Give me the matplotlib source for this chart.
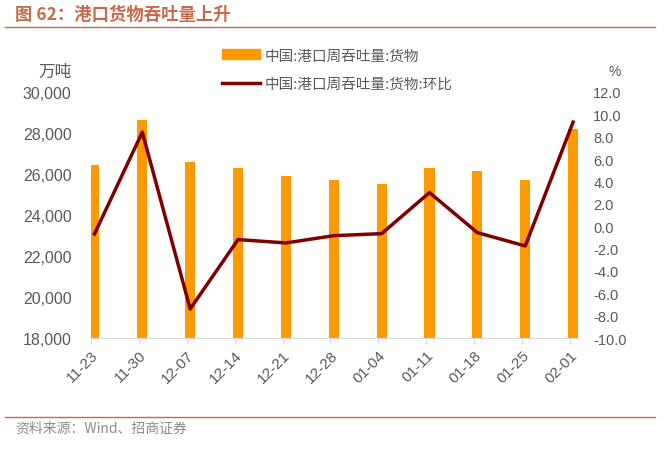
import matplotlib
matplotlib.use("Agg")
import matplotlib.pyplot as plt
from matplotlib.lines import Line2D

plt.rcParams['font.family'] = ['Liberation Sans', 'Noto Sans CJK SC', 'DejaVu Sans']

# data
dates = ["11-23", "11-30", "12-07", "12-14", "12-21", "12-28",
         "01-04", "01-11", "01-18", "01-25", "02-01"]
throughput = [26420, 28650, 26580, 26290, 25900, 25700,
              25510, 26290, 26140, 25700, 28200]
wow_pct = [-0.7, 8.4, -7.4, -1.2, -1.5, -0.85,
           -0.67, 3.0, -0.58, -1.77, 9.3]

bar_color = "#FF9900"
line_color = "#800000"
accent = "#C8694A"
grey = "#595959"
cjk = ['Noto Sans CJK SC', 'DejaVu Sans']

fig = plt.figure(figsize=(6.65, 4.6), dpi=100)
ax = fig.add_axes([0.137, 0.263, 0.732, 0.535])
ax2 = ax.twinx()

x = list(range(len(dates)))
ax.bar(x, throughput, width=0.21, color=bar_color, zorder=2)
ax2.plot(x, wow_pct, color=line_color, lw=2.5, zorder=3)

ax.set_xlim(-0.07, 10.1)
ax.set_ylim(18000, 30000)
ax.set_yticks(range(18000, 30001, 2000))
ax.set_yticklabels([f"{v:,}" for v in range(18000, 30001, 2000)])
ax2.set_ylim(-10, 12)
ax2.set_yticks(range(-10, 13, 2))
ax2.set_yticklabels([f"{v:.1f}" for v in range(-10, 13, 2)])

ax.set_xticks([i - 0.07 for i in x])
ax.set_xticklabels(dates, rotation=45, ha="right", va="top",
                   rotation_mode="anchor", color=grey, fontsize=11)

for a in (ax, ax2):
    for s in a.spines.values():
        s.set_visible(False)
ax.spines['bottom'].set_visible(True)
ax.spines['bottom'].set_color("#D9D9D9")
ax.tick_params(axis='x', length=4, color="#D9D9D9", pad=3)
ax.tick_params(axis='y', length=0, labelsize=11.5, labelcolor=grey, pad=14)
ax2.tick_params(axis='y', length=0, labelsize=10.5, labelcolor=grey, pad=11)
ax.set_zorder(ax2.get_zorder() - 1)
ax2.patch.set_visible(False)

# units
fig.text(72 / 665, 1 - 72 / 460, "万吨", ha="right", va="center",
         fontsize=12, color=grey, family=cjk)
fig.text(615 / 665, 1 - 72 / 460, "%", ha="center", va="center",
         fontsize=10, color=grey)

# legend
handles = [plt.Rectangle((0, 0), 1, 1, color=bar_color),
           Line2D([0], [0], color=line_color, lw=2.5)]
fig.legend(handles, ["中国:港口周吞吐量:货物", "中国:港口周吞吐量:货物:环比"],
           loc="upper left", bbox_to_anchor=(0.314, 0.921), frameon=False,
           prop={'family': cjk, 'size': 10.5}, labelcolor=grey,
           handlelength=2.6, handletextpad=0.3, labelspacing=1.0)

# title and source
fig.text(15 / 665, 1 - 15 / 460, "图 62：港口货物吞吐量上升", ha="left", va="center",
         fontsize=12.5, fontweight="bold", color=accent, family=cjk)
fig.add_artist(Line2D([5 / 665, 655 / 665], [1 - 28 / 460, 1 - 28 / 460],
                      color=accent, lw=1))
fig.add_artist(Line2D([5 / 665, 655 / 665], [1 - 418 / 460, 1 - 418 / 460],
                      color=accent, lw=1))
fig.text(15 / 665, 1 - 429 / 460, "资料来源：Wind、招商证券", ha="left", va="center",
         fontsize=10, color="#8C8C8C", family=cjk)

fig.savefig("out.png", dpi=100)
